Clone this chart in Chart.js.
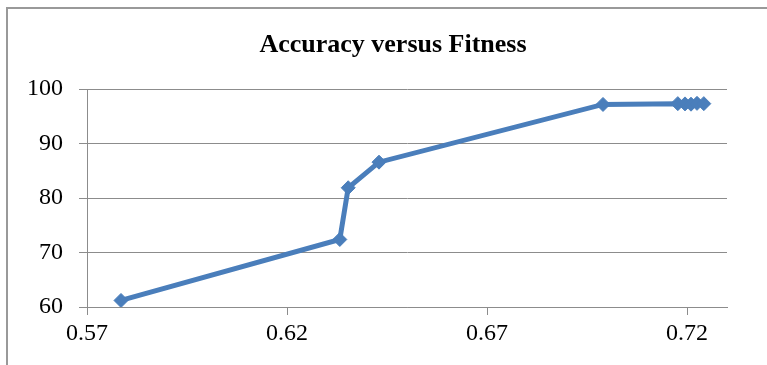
<!DOCTYPE html>
<html>
<head>
<meta charset="utf-8">
<script src="https://cdn.jsdelivr.net/npm/chart.js@4/dist/chart.umd.min.js"></script>
<style>
  html, body { margin: 0; padding: 0; background: #ffffff; }
  #frame {
    position: absolute; left: 6px; top: 7px; width: 820px; height: 420px;
    border: 2px solid #999999; box-sizing: border-box;
  }
  #wrap { position: absolute; left: 0; top: 0; width: 767px; height: 365px; }
</style>
</head>
<body>
<div id="frame"></div>
<div id="wrap"><canvas id="c" width="767" height="365"></canvas></div>
<script>
// Fitness of each evaluated model and the accuracy it reached (%)
const fitness  = [0.5785, 0.6332, 0.6353, 0.6430, 0.6990, 0.7177, 0.7195, 0.7210, 0.7225, 0.7242];
const accuracy = [61.2, 72.4, 81.9, 86.6, 97.2, 97.35, 97.3, 97.25, 97.4, 97.35];

// Axis tick labels
const xTicks = [0.57, 0.62, 0.67, 0.72];
const yTicks = [60, 70, 80, 90, 100];

const serif = "'Liberation Serif', 'Times New Roman', serif";
const gridGray = '#8c8c8c';
const lineBlue = '#4a7ebb';

const points = fitness.map((f, i) => ({ x: f, y: accuracy[i] }));

// Centre the title over the span from the frame's left side to the plot's right edge
const titleSpan = {
  id: 'titleSpan',
  afterLayout(chart) {
    const t = chart.titleBlock;
    if (t) { t.left = 59; t.right = chart.chartArea.right; t.width = t.right - t.left; }
  }
};

new Chart(document.getElementById('c'), {
  type: 'scatter',
  data: {
    datasets: [{
      data: points,
      showLine: true,
      borderColor: lineBlue,
      backgroundColor: lineBlue,
      borderWidth: 5,
      tension: 0,
      pointStyle: 'rectRot',
      pointRadius: 7,
      pointBorderWidth: 1,
      pointBorderColor: lineBlue,
      pointBackgroundColor: lineBlue
    }]
  },
  plugins: [titleSpan],
  options: {
    responsive: false,
    animation: false,
    devicePixelRatio: 1,
    layout: { padding: { left: 0, right: 40, top: 0, bottom: 0 } },
    plugins: {
      legend: { display: false },
      tooltip: { enabled: false },
      title: {
        display: true,
        text: 'Accuracy versus Fitness',
        color: '#000000',
        font: { family: serif, size: 26, weight: 'bold', lineHeight: 1.2 },
        padding: { top: 30, bottom: 28 }
      }
    },
    scales: {
      x: {
        type: 'linear',
        min: 0.57,
        max: 0.73,
        afterBuildTicks: (s) => { s.ticks = xTicks.map(v => ({ value: v })); },
        afterFit: (s) => { s.height = 58; },
        ticks: {
          color: '#000000',
          font: { family: serif, size: 24 },
          padding: 4,
          maxRotation: 0,
          callback: (v) => v.toFixed(2)
        },
        grid: {
          drawOnChartArea: false,
          drawTicks: true,
          tickLength: 8,
          tickColor: gridGray,
          color: gridGray
        },
        border: { color: gridGray, width: 1 }
      },
      y: {
        type: 'linear',
        min: 60,
        max: 100,
        afterBuildTicks: (s) => { s.ticks = yTicks.map(v => ({ value: v })); },
        afterFit: (s) => { s.width = 87; },
        ticks: {
          color: '#000000',
          font: { family: serif, size: 24 },
          padding: 16
        },
        grid: {
          color: gridGray,
          lineWidth: 1,
          tickLength: 8,
          tickColor: gridGray
        },
        border: { color: gridGray, width: 1 }
      }
    }
  }
});
</script>
</body>
</html>
